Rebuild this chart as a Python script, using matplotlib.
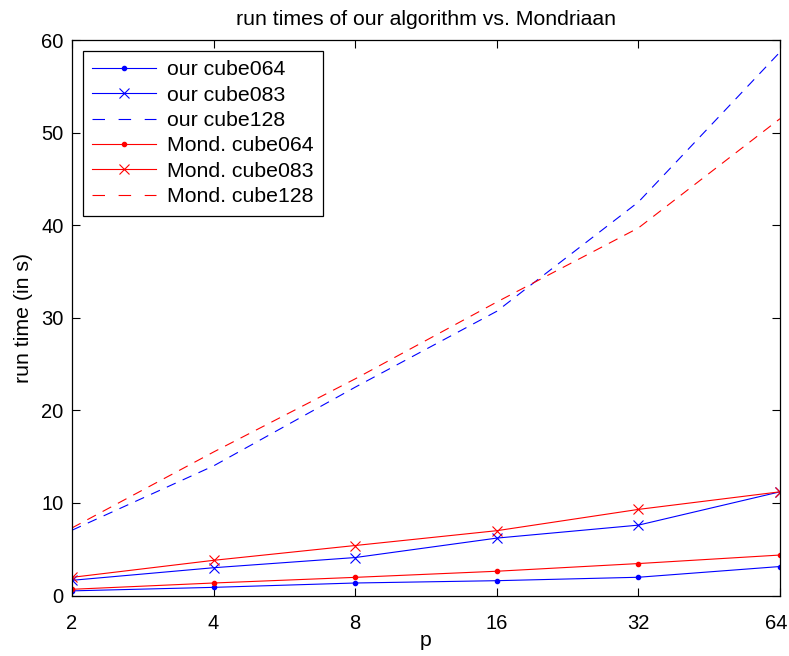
import matplotlib
matplotlib.use("Agg")
import matplotlib.pyplot as plt
import matplotlib.transforms as mtransforms

plt.rcParams['font.family'] = ['Liberation Sans', 'DejaVu Sans']
plt.rcParams['lines.scale_dashes'] = False

p = [2, 4, 8, 16, 32, 64]
our_cube064 = [0.5, 0.88, 1.35, 1.6, 1.97, 3.13]
our_cube083 = [1.64, 3.0, 4.1, 6.2, 7.6, 11.2]
our_cube128 = [7.05, 14.0, 22.5, 30.7, 42.5, 58.7]
mond_cube064 = [0.67, 1.35, 1.96, 2.62, 3.45, 4.37]
mond_cube083 = [1.96, 3.8, 5.4, 7.0, 9.3, 11.2]
mond_cube128 = [7.3, 15.5, 23.4, 31.7, 39.7, 51.5]

fs_tick = 14.5
fs = 15.3
fig = plt.figure(figsize=(7.89, 6.56), dpi=100)
ax = fig.add_axes([72/789, 1-595.5/656, 708/789, 555.5/656])

lw = 0.8
dash = (0, (7, 5.5))
ax.plot(p, our_cube064, color='#0000ff', lw=lw, marker='.', ms=6, label='our cube064')
ax.plot(p, our_cube083, color='#0000ff', lw=lw, marker='x', ms=7, mew=0.8, label='our cube083')
ax.plot(p, our_cube128, color='#0000ff', lw=lw, linestyle=dash, label='our cube128')
ax.plot(p, mond_cube064, color='#ff0000', lw=lw, marker='.', ms=6, label='Mond. cube064')
ax.plot(p, mond_cube083, color='#ff0000', lw=lw, marker='x', ms=7, mew=0.8, label='Mond. cube083')
ax.plot(p, mond_cube128, color='#ff0000', lw=lw, linestyle=dash, label='Mond. cube128')

ax.set_xscale('log', base=2)
ax.set_xlim(2, 64)
ax.set_ylim(0, 60)
ax.set_xticks(p)
ax.set_xticklabels([str(v) for v in p])
ax.minorticks_off()
ax.set_yticks(range(0, 61, 10))
ax.tick_params(direction='in', top=True, right=True, length=6, width=0.8, labelsize=fs_tick)
ax.tick_params(axis='y', pad=6)
ax.tick_params(axis='x', pad=13)
for s in ax.spines.values():
    s.set_linewidth(0.9)

# keep the last x tick label inside the figure edge
last = ax.get_xticklabels()[-1]
last.set_transform(last.get_transform() + mtransforms.ScaledTranslation(-4/100, 0, fig.dpi_scale_trans))

ax.set_xlabel('p', fontsize=fs, labelpad=-1)
ax.set_ylabel('run time (in s)', fontsize=fs, labelpad=6)
ax.set_title('run times of our algorithm vs. Mondriaan', fontsize=fs, pad=11)

leg = ax.legend(loc='upper left', fontsize=fs, handlelength=3.0, handletextpad=0.5,
                borderaxespad=0.5, labelspacing=0.3, fancybox=False, framealpha=1,
                edgecolor='black', borderpad=0.45)
leg.get_frame().set_linewidth(0.9)
for i in (2, 5):
    leg.get_lines()[i].set_dashes((9, 9.8))

fig.savefig('out.png', dpi=100)
